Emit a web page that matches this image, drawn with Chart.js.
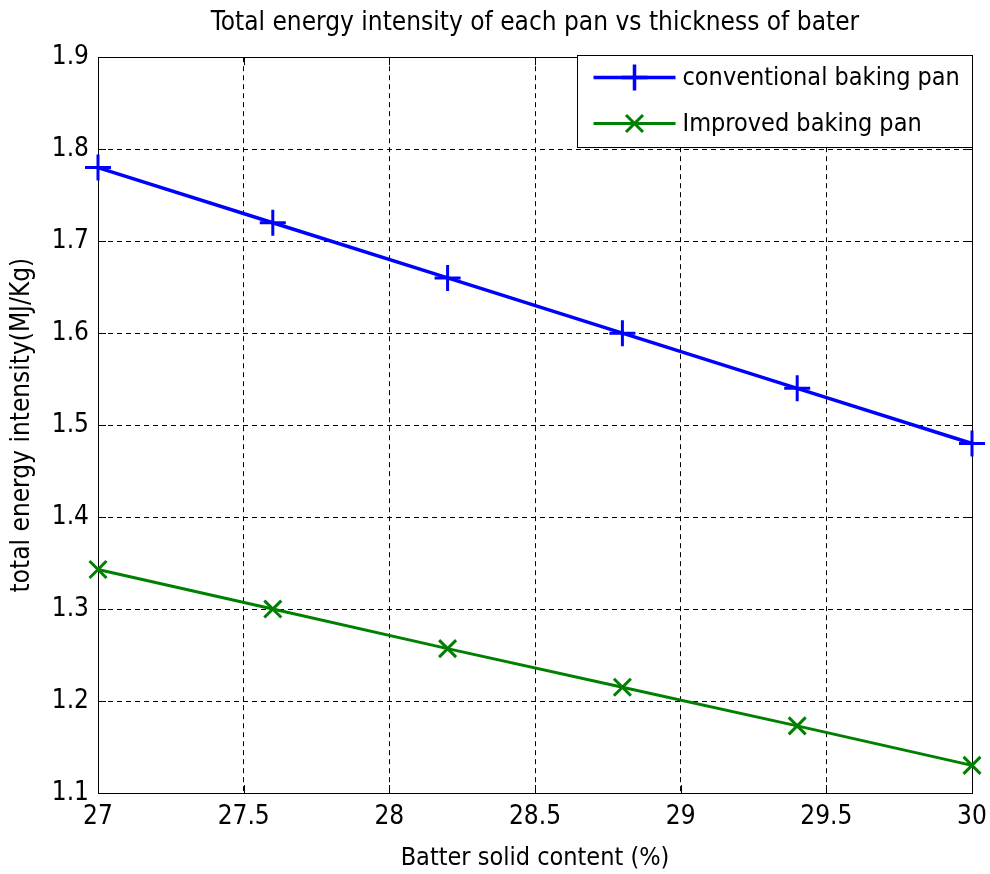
<!DOCTYPE html>
<html>
<head>
<meta charset="utf-8">
<script src="https://cdn.jsdelivr.net/npm/chart.js@4/dist/chart.umd.min.js"></script>
<style>
  html, body { margin: 0; padding: 0; background: #fff; }
  #wrap { width: 990px; height: 874px; }
</style>
</head>
<body>
<div id="wrap"><canvas id="chart" width="990" height="874"></canvas></div>
<script>
const thickness    = [27, 27.6, 28.2, 28.8, 29.4, 30];
const conventional = [1.78, 1.72, 1.66, 1.60, 1.54, 1.48];
const improved     = [1.343, 1.300, 1.257, 1.215, 1.173, 1.130];
const seriesNames  = ['conventional baking pan', 'Improved baking pan'];

const FONT = "'Liberation Sans Narrow', 'DejaVu Sans Condensed', 'Liberation Sans', sans-serif";
const BLUE = '#0000ff';
const GREEN = '#008000';

// box round the plot plus small inward tick marks, the way matlab draws them
const framePlugin = {
  id: 'frame',
  beforeDatasetsDraw(chart) {
    const { ctx, chartArea: a, scales } = chart;
    ctx.save();
    ctx.strokeStyle = '#000';
    ctx.lineWidth = 1;
    ctx.setLineDash([]);
    ctx.beginPath();
    scales.x.ticks.forEach(t => {
      const px = Math.round(scales.x.getPixelForValue(t.value)) + 0.5;
      ctx.moveTo(px, a.bottom); ctx.lineTo(px, a.bottom - 8);
      ctx.moveTo(px, a.top);    ctx.lineTo(px, a.top + 8);
    });
    scales.y.ticks.forEach(t => {
      const py = Math.round(scales.y.getPixelForValue(t.value)) + 0.5;
      ctx.moveTo(a.left, py);  ctx.lineTo(a.left + 8, py);
      ctx.moveTo(a.right, py); ctx.lineTo(a.right - 8, py);
    });
    ctx.stroke();
    ctx.strokeRect(Math.round(a.left) + 0.5, Math.round(a.top) + 0.5,
                   Math.round(a.right - a.left), Math.round(a.bottom - a.top));
    ctx.restore();
  }
};

// legend box in the top right corner of the axes
const legendPlugin = {
  id: 'boxLegend',
  afterDatasetsDraw(chart) {
    const { ctx, chartArea: a } = chart;
    const w = 395, h = 92;
    const x0 = Math.round(a.right - w) + 0.5, y0 = Math.round(a.top - 2) + 0.5;
    ctx.save();
    ctx.fillStyle = '#fff';
    ctx.fillRect(x0, y0, w, h);
    ctx.strokeStyle = '#000';
    ctx.lineWidth = 1;
    ctx.strokeRect(x0, y0, w, h);
    chart.data.datasets.forEach((ds, i) => {
      const cy = y0 + 22 + i * 46;
      ctx.strokeStyle = ds.borderColor;
      ctx.lineWidth = ds.borderWidth;
      ctx.beginPath();
      ctx.moveTo(x0 + 16, cy); ctx.lineTo(x0 + 98, cy);
      ctx.stroke();
      Chart.helpers.drawPoint(ctx, {
        pointStyle: ds.pointStyle, radius: ds.pointRadius,
        borderWidth: ds.pointBorderWidth, rotation: 0
      }, x0 + 57, cy);
      ctx.fillStyle = '#000';
      ctx.font = '25px ' + FONT;
      ctx.textBaseline = 'middle';
      ctx.fillText(ds.label, x0 + 105, cy + 1);
    });
    ctx.restore();
  }
};

const tickFont = { family: FONT, size: 26 };
const fmt = v => String(Number(v.toFixed(2)));

new Chart(document.getElementById('chart').getContext('2d'), {
  type: 'line',
  data: {
    datasets: [
      {
        label: seriesNames[0],
        data: thickness.map((x, i) => ({ x, y: conventional[i] })),
        borderColor: BLUE, backgroundColor: BLUE,
        borderWidth: 3.5, pointStyle: 'cross', pointRadius: 13,
        pointBorderWidth: 3, pointBorderColor: BLUE
      },
      {
        label: seriesNames[1],
        data: thickness.map((x, i) => ({ x, y: improved[i] })),
        borderColor: GREEN, backgroundColor: GREEN,
        borderWidth: 3, pointStyle: 'crossRot', pointRadius: 12,
        pointBorderWidth: 3, pointBorderColor: GREEN
      }
    ]
  },
  options: {
    responsive: false,
    animation: false,
    clip: false,
    layout: { padding: { left: 0, right: 18, top: 0, bottom: 0 } },
    plugins: {
      legend: { display: false },
      tooltip: { enabled: false },
      title: {
        display: true,
        fullSize: false,
        text: 'Total energy intensity of each pan vs thickness of bater',
        color: '#000',
        font: { family: FONT, size: 26, weight: 'normal' },
        padding: { top: 8, bottom: 18 }
      }
    },
    scales: {
      x: {
        type: 'linear', min: 27, max: 30,
        ticks: { stepSize: 0.5, color: '#000', font: tickFont, padding: 9, maxRotation: 0,
                 callback: fmt },
        grid: { color: '#000', drawTicks: false },
        border: { color: '#000', dash: [5, 4] },
        title: { display: true, text: 'Batter solid content (%)', color: '#000',
                 font: { family: FONT, size: 25 }, padding: { top: 0, bottom: 1 } },
        afterFit: s => { s.height = 81; s.paddingLeft = 0; s.paddingRight = 0; }
      },
      y: {
        min: 1.1, max: 1.9,
        ticks: { stepSize: 0.1, color: '#000', font: tickFont, padding: 9,
                 callback: v => v.toFixed(1) },
        grid: { color: '#000', drawTicks: false },
        border: { color: '#000', dash: [5, 4] },
        title: { display: true, text: 'total energy intensity(MJ/Kg)', color: '#000',
                 font: { family: FONT, size: 26 }, padding: { top: 7, bottom: 0 } },
        afterFit: s => { s.width = 98; }
      }
    }
  },
  plugins: [framePlugin, legendPlugin]
});
</script>
</body>
</html>
